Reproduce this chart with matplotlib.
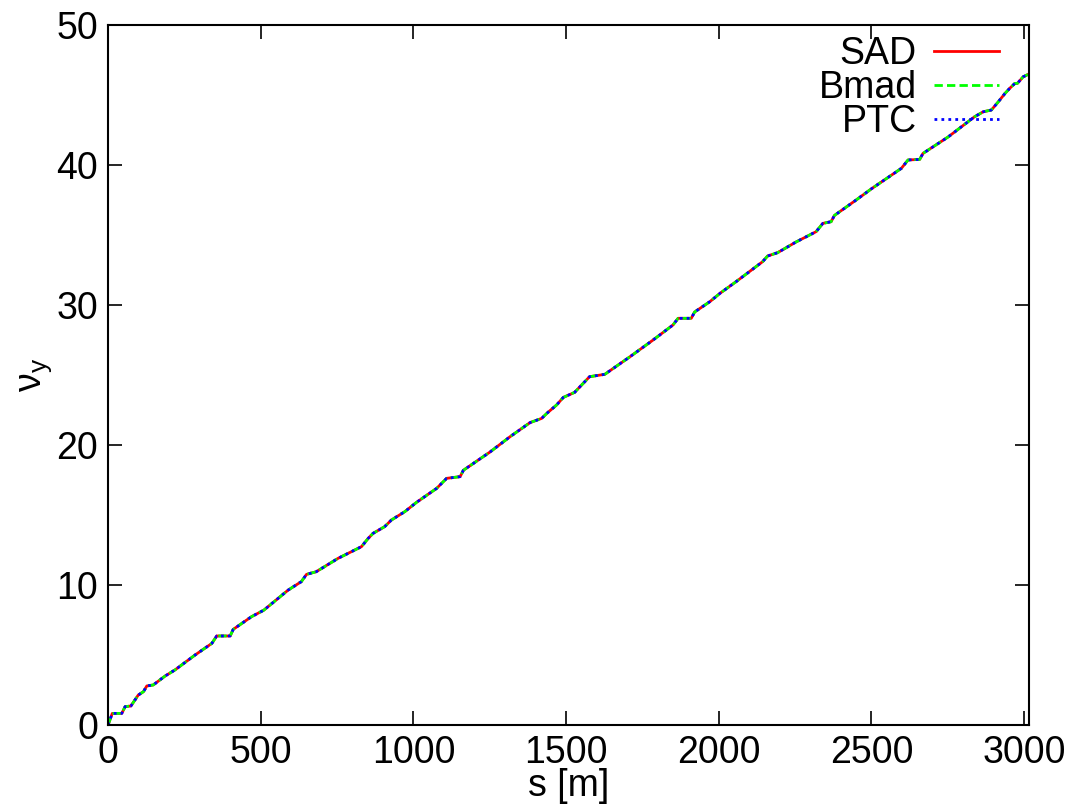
import numpy as np
from matplotlib import pyplot as plt

plt.rcParams['font.family'] = ['Liberation Sans', 'DejaVu Sans']
plt.rcParams['mathtext.default'] = 'regular'

# vertical tune advance along the ring (the three codes agree to the pixel)
s_m = [0, 14, 45, 56, 75, 99, 116, 127, 148, 187, 219, 285, 340, 356, 400,
       410, 470, 510, 590, 633, 650, 682, 753, 830, 852, 868, 906, 928, 972, 1010,
       1076, 1109, 1153, 1164, 1251, 1317, 1382, 1420, 1437, 1469, 1491, 1528,
       1577, 1627, 1709, 1785, 1850, 1867, 1910, 1921, 1971, 2005, 2057, 2144,
       2160, 2193, 2253, 2319, 2341, 2368, 2379, 2450, 2500, 2598, 2620, 2658,
       2669, 2751, 2838, 2866, 2893, 2915, 2937, 2953, 2970, 2978, 2997, 3016]
nu_sad = [0, 0.83, 0.83, 1.31, 1.36, 2.14, 2.38, 2.79, 2.86, 3.5, 3.93, 5.0,
          5.83, 6.36, 6.36, 6.83, 7.74, 8.2, 9.64, 10.24, 10.76, 10.95, 11.9,
          12.74, 13.33, 13.69, 14.17, 14.64, 15.24, 15.9, 16.9, 17.62, 17.74,
          18.2, 19.5, 20.6, 21.6, 21.9, 22.26, 22.86, 23.4, 23.76, 24.88, 25.05,
          26.3, 27.5, 28.57, 29.05, 29.05, 29.5, 30.24, 30.85, 31.67, 33.1, 33.5,
          33.74, 34.5, 35.24, 35.83, 35.95, 36.4, 37.5, 38.3, 39.76, 40.36, 40.4,
          40.83, 42.0, 43.45, 43.8, 43.93, 44.5, 45.1, 45.48, 45.83, 45.83, 46.3,
          46.5]
nu_bmad = list(nu_sad)
nu_ptc = list(nu_sad)

labels = ['SAD', 'Bmad', 'PTC']
xticks = [0, 500, 1000, 1500, 2000, 2500, 3000]
yticks = [0, 10, 20, 30, 40, 50]

fig = plt.figure(figsize=(10.77, 8.07), dpi=100)
ax = fig.add_axes([0.1003, 0.1016, 0.8551, 0.8674])

ax.plot(s_m, nu_sad, color='#ff0000', lw=2, label=labels[0])
ax.plot(s_m, nu_bmad, color='#00ff00', lw=2, dashes=(3, 1.5), label=labels[1])
ax.plot(s_m, nu_ptc, color='#0000ff', lw=2, dashes=(1, 1.5), label=labels[2])

ax.set_xlim(0, 3016)
ax.set_ylim(0, 50)
ax.set_xticks(xticks)
ax.set_yticks(yticks)
ax.tick_params(direction='in', length=10, width=1.2, labelsize=27,
               top=True, right=True, pad=7)
for sp in ax.spines.values():
    sp.set_linewidth(1.5)

ax.set_xlabel('s [m]', fontsize=27, labelpad=-2)
ax.set_ylabel(r'$\nu_y$', fontsize=27, labelpad=2)

ax.legend(loc='upper right', frameon=False, markerfirst=False, fontsize=27,
          handlelength=1.75, handletextpad=0.45, labelspacing=-0.05,
          borderaxespad=0.0, bbox_to_anchor=(0.984, 1.006))

plt.savefig('out.png', dpi=100)
